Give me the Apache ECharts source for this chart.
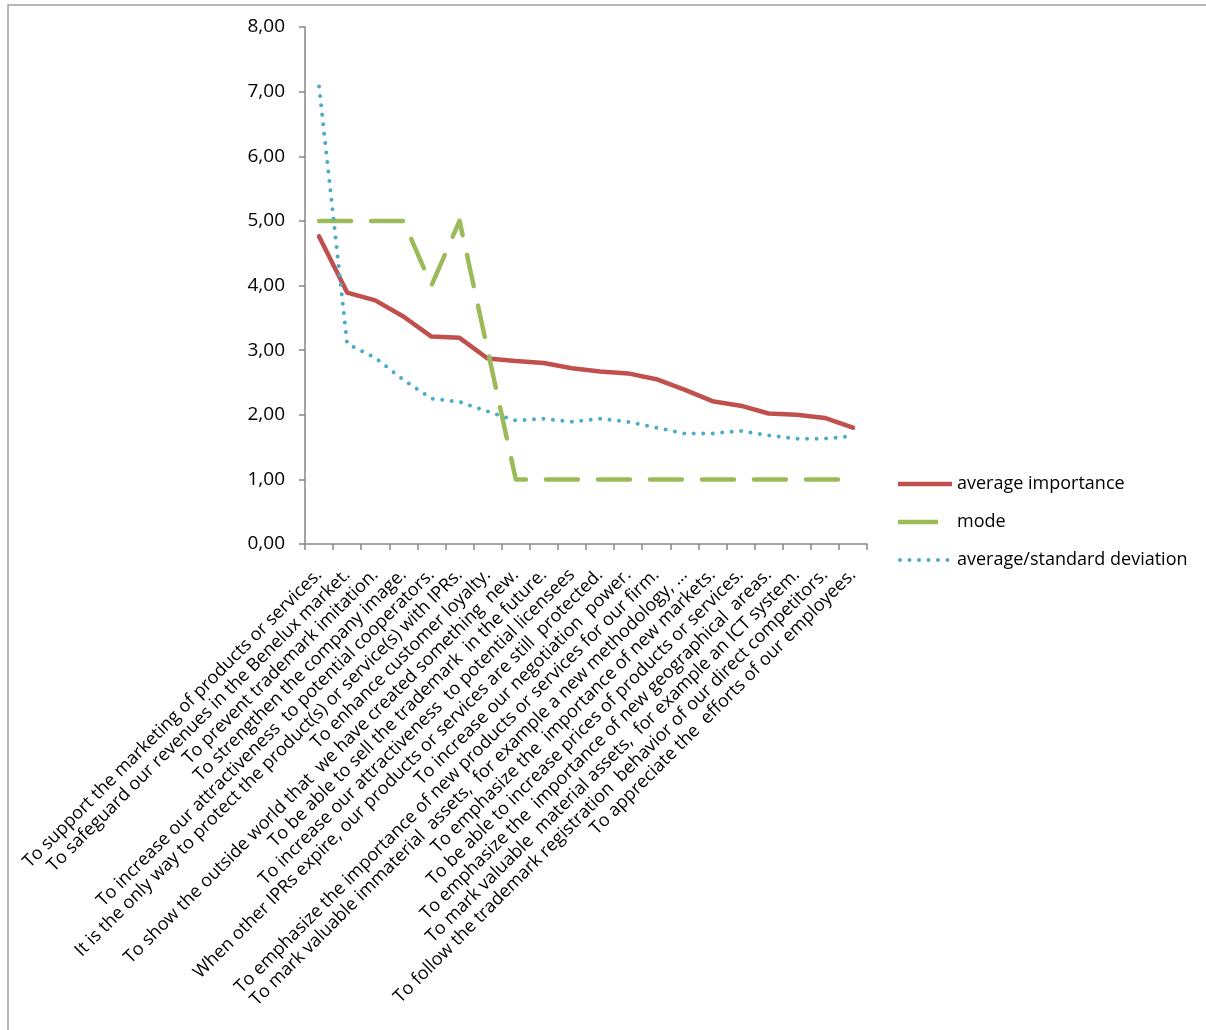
<!DOCTYPE html>
<html>
<head>
<meta charset="utf-8">
<script src="https://cdn.jsdelivr.net/npm/echarts@6/dist/echarts.min.js"></script>
<style>
  html, body { margin: 0; padding: 0; background: #fff; }
  #chart { width: 1206px; height: 1030px; }
</style>
</head>
<body>
<div id="chart"></div>
<script>
// Motives for trademark registration, sorted by average importance
const categories = [
  "To support the marketing of products or services.",
  "To safeguard our revenues in the Benelux market.",
  "To prevent trademark imitation.",
  "To strengthen the company image.",
  "To increase our attractiveness  to potential cooperators.",
  "It is the only way to protect the product(s) or service(s) with IPRs.",
  "To enhance customer loyalty.",
  "To show the outside world that  we have created something  new.",
  "To be able to sell the trademark  in the future.",
  "To increase our attractiveness  to potential licensees",
  "When other IPRs expire, our products or services are still  protected.",
  "To increase our negotiation  power.",
  "To emphasize the importance of new products or services for our firm.",
  "To mark valuable immaterial  assets,  for example a new methodology, ...",
  "To emphasize the  importance of new markets.",
  "To be able to increase prices of products or services.",
  "To emphasize the  importance of new geographical  areas.",
  "To mark valuable  material assets,  for example an ICT system.",
  "To follow the trademark registration  behavior of our direct competitors.",
  "To appreciate the  efforts of our employees."
];

const averageImportance = [4.76, 3.89, 3.77, 3.52, 3.21, 3.19, 2.87, 2.83, 2.80, 2.72,
                           2.67, 2.64, 2.55, 2.39, 2.21, 2.14, 2.02, 2.00, 1.95, 1.80];
const modeValues = [5, 5, 5, 5, 4, 5, 3, 1, 1, 1, 1, 1, 1, 1, 1, 1, 1, 1, 1, 1];
const avgOverStdDev = [7.08, 3.10, 2.88, 2.54, 2.25, 2.20, 2.05, 1.91, 1.94, 1.89,
                       1.94, 1.89, 1.80, 1.71, 1.71, 1.75, 1.68, 1.63, 1.63, 1.67];

const yTicks = { min: 0, max: 8, interval: 1 };

const FONT = "'Open Sans', 'Noto Sans', sans-serif";
const AXIS_GREY = '#868686';

// Legend keys: solid bar, one long dash, a row of round dots
const dot = cx => `M${cx - 2},2a2,2 0 1,0 4,0a2,2 0 1,0 -4,0Z`;
const ICON_SOLID = 'path://M0,0H54V4.5H0Z';
const ICON_DASH = 'path://M0,0H40V4.5H0Z M54,4.5';
const ICON_DOTS = 'path://' + [2, 11.5, 21, 30.5, 40, 49.5].map(dot).join(' ') + ' M54,4';

const chart = echarts.init(document.getElementById('chart'), null, { renderer: 'canvas' });

chart.setOption({
  backgroundColor: '#ffffff',
  animation: false,
  textStyle: { fontFamily: FONT },
  graphic: [{
    type: 'rect',
    shape: { x: 8, y: 5, width: 1240, height: 1100 },
    style: { fill: 'none', stroke: '#a0a0a0', lineWidth: 1.5 },
    silent: true
  }],
  grid: { left: 305, right: 339, top: 27, bottom: 486, containLabel: false },
  legend: {
    orient: 'vertical',
    left: 893,
    top: 469,
    itemWidth: 54,
    itemHeight: 4.5,
    itemGap: 18,
    textStyle: { fontFamily: FONT, fontSize: 18, color: '#000', lineHeight: 20 },
    data: [
      { name: 'average importance', icon: ICON_SOLID },
      { name: 'mode', icon: ICON_DASH },
      { name: 'average/standard deviation', icon: ICON_DOTS }
    ]
  },
  xAxis: {
    type: 'category',
    data: categories,
    boundaryGap: true,
    axisLine: { lineStyle: { color: AXIS_GREY, width: 1.5 } },
    axisTick: { show: true, length: 6, interval: 0, lineStyle: { color: AXIS_GREY, width: 1.5 } },
    axisLabel: {
      interval: 0,
      rotate: 45,
      margin: 28,
      fontFamily: FONT,
      fontSize: 18,
      color: '#000'
    }
  },
  yAxis: {
    type: 'value',
    min: yTicks.min,
    max: yTicks.max,
    interval: yTicks.interval,
    splitLine: { show: false },
    axisLine: { show: true, lineStyle: { color: AXIS_GREY, width: 1.5 } },
    axisTick: { show: true, length: 6, lineStyle: { color: AXIS_GREY, width: 1.5 } },
    axisLabel: {
      margin: 20,
      fontFamily: FONT,
      fontSize: 19,
      color: '#000',
      formatter: v => v.toFixed(2).replace('.', ',')
    }
  },
  series: [
    {
      name: 'average importance',
      type: 'line',
      data: averageImportance,
      symbol: 'none',
      color: '#C0504D',
      lineStyle: { color: '#C0504D', width: 4.5, join: 'round', cap: 'round' }
    },
    {
      name: 'mode',
      type: 'line',
      data: modeValues,
      symbol: 'none',
      color: '#9BBB59',
      lineStyle: { color: '#9BBB59', width: 4.5, type: [32, 20], cap: 'round', join: 'round' }
    },
    {
      name: 'average/standard deviation',
      type: 'line',
      data: avgOverStdDev,
      symbol: 'none',
      color: '#4BACC6',
      lineStyle: { color: '#4BACC6', width: 4, type: [0, 9.5], cap: 'round', join: 'round' }
    }
  ]
});
</script>
</body>
</html>
